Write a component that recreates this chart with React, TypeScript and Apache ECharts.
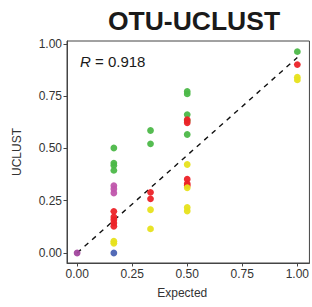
import React, { useEffect, useRef } from "react";
import * as echarts from "echarts";

const S = 1 / 6;
const T = 1 / 3;

const greenX = [S, S, S, S, T, T, 0.5, 0.5, 0.5, 0.5, 0.5, 1];
const greenY = [0.502, 0.43, 0.419, 0.395, 0.586, 0.522, 0.773, 0.761, 0.662, 0.632, 0.567, 0.963];

const redX = [S, S, S, S, S, T, T, 0.5, 0.5, 0.5, 0.5, 0.5, 1];
const redY = [0.199, 0.172, 0.159, 0.143, 0.128, 0.29, 0.259, 0.637, 0.623, 0.353, 0.331, 0.323, 0.901];

const yellowX = [S, S, T, T, 0.5, 0.5, 0.5, 0.5, 1, 1];
const yellowY = [0.056, 0.046, 0.207, 0.115, 0.423, 0.312, 0.218, 0.201, 0.841, 0.828];

const magentaX = [S, S, S];
const magentaY = [0.322, 0.306, 0.287];

const blueX = [S];
const blueY = [0];

const purpleX = [0];
const purpleY = [0];

const fitX = [0, 1];
const fitY = [0, 0.935];

const tickValues = [0, 0.25, 0.5, 0.75, 1];

const FONT = "Liberation Sans, Arial, sans-serif";

function zip(xs: number[], ys: number[]) {
  return xs.map((x, i) => [x, ys[i]]);
}

function scatter(name: string, xs: number[], ys: number[], color: string) {
  return {
    name,
    type: "scatter",
    data: zip(xs, ys),
    symbol: "circle",
    symbolSize: 6.8,
    itemStyle: { color, opacity: 0.95 },
    z: 3,
  };
}

export default function App() {
  const ref = useRef<HTMLDivElement>(null);
  useEffect(() => {
    if (!ref.current) return;
    const chart = echarts.init(ref.current, null, { renderer: "svg" });
    const axisCommon = {
      type: "value",
      splitLine: { show: false },
      axisLine: { show: true, onZero: false, lineStyle: { color: "#444", width: 1 } },
      axisTick: {
        show: true,
        length: 3.5,
        customValues: tickValues,
        lineStyle: { color: "#444", width: 1 },
      },
      axisLabel: {
        customValues: tickValues,
        formatter: (v: number) => v.toFixed(2),
        color: "#333",
        fontSize: 12,
        fontFamily: FONT,
        margin: 5,
      },
      nameTextStyle: { color: "#333", fontSize: 12, fontFamily: FONT },
    };
    chart.setOption({
      animation: false,
      backgroundColor: "#fff",
      title: {
        text: "OTU-UCLUST",
        left: 189,
        textAlign: "center",
        top: 2,
        textStyle: { fontSize: 26.5, fontWeight: "bold", color: "#1a1a1a", fontFamily: FONT },
      },
      grid: {
        left: 67,
        top: 41,
        right: -2,
        bottom: 44,
        show: true,
        borderColor: "#444",
        borderWidth: 1,
        backgroundColor: "transparent",
      },
      xAxis: {
        ...axisCommon,
        min: -0.046,
        max: 1.055,
        name: "Expected",
        nameLocation: "middle",
        nameGap: 24,
        nameTextStyle: { ...axisCommon.nameTextStyle, padding: [0, 12, 0, 0] },
      },
      yAxis: {
        ...axisCommon,
        min: -0.048,
        max: 1.014,
        name: "UCLUST",
        nameLocation: "middle",
        nameGap: 44,
      },
      graphic: [
        {
          type: "text",
          left: 80,
          top: 54,
          style: {
            text: "{i|R} = 0.918",
            fontSize: 15,
            fontFamily: FONT,
            fill: "#1a1a1a",
            rich: {
              i: { fontStyle: "italic", fontSize: 15, fontFamily: FONT, fill: "#1a1a1a" },
            },
          },
        },
      ],
      series: [
        {
          name: "fit",
          type: "line",
          data: zip(fitX, fitY),
          symbol: "none",
          lineStyle: { color: "#111", width: 1.4, type: [5, 5] },
          z: 2,
        },
        scatter("green", greenX, greenY, "#4cb848"),
        scatter("red", redX, redY, "#ec2227"),
        scatter("yellow", yellowX, yellowY, "#e7e21c"),
        scatter("magenta", magentaX, magentaY, "#c056ac"),
        scatter("blue", blueX, blueY, "#4a63b3"),
        scatter("purple", purpleX, purpleY, "#a2479e"),
      ],
    });
    return () => chart.dispose();
  }, []);
  return (
    <div
      ref={ref}
      style={{ position: "absolute", left: 0, top: 0, width: 312, height: 307, overflow: "hidden" }}
    />
  );
}
